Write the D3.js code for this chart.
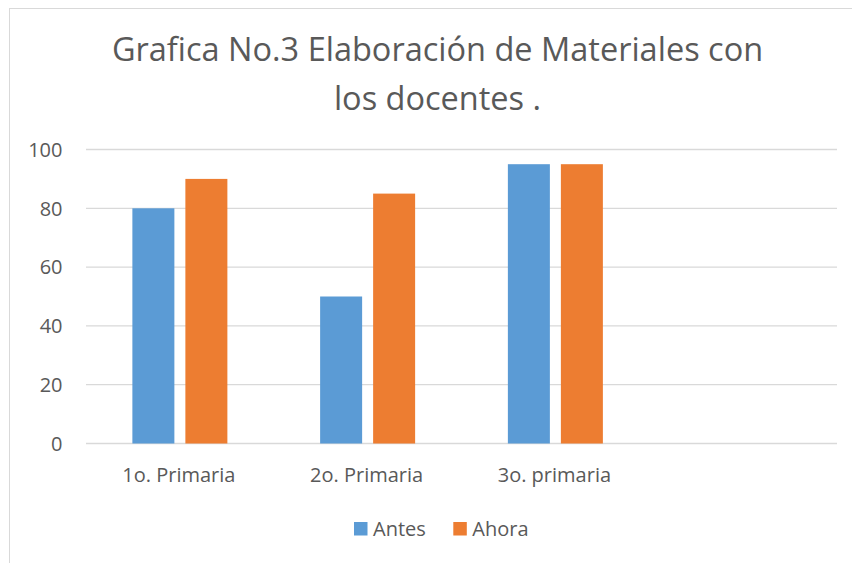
<!DOCTYPE html>
<html>
<head>
<meta charset="utf-8">
<script src="https://cdn.jsdelivr.net/npm/d3@7"></script>
<style>
  body { margin: 0; background: #fff; }
  text { font-family: "Open Sans", "Noto Sans", sans-serif; fill: #595959; }
</style>
</head>
<body>
<div id="chart"></div>
<script>
var categories = ["1o. Primaria", "2o. Primaria", "3o. primaria", ""];
var series = ["Antes", "Ahora"];
var antes = [80, 50, 95, null];
var ahora = [90, 85, 95, null];
var yTicks = [0, 20, 40, 60, 80, 100];
var colors = ["#5B9BD5", "#ED7D31"];
var titleLines = ["Grafica No.3 Elaboración de Materiales con", "los docentes ."];

var width = 852, height = 563;
var margin = {left: 86, right: 15, top: 149.5, bottom: 119.5};

var svg = d3.select("#chart").append("svg")
    .attr("width", width)
    .attr("height", height);

// chart border
svg.append("rect")
    .attr("x", 9.5).attr("y", 8.5)
    .attr("width", width).attr("height", height)
    .attr("fill", "none")
    .attr("stroke", "#d9d9d9");

var x = d3.scaleBand()
    .domain(categories.map(function (d, i) { return i; }))
    .range([margin.left, width - margin.right]);

var y = d3.scaleLinear()
    .domain([0, 100])
    .range([height - margin.bottom, margin.top]);

// gridlines
svg.append("g").selectAll("line")
    .data(yTicks)
    .enter().append("line")
    .attr("x1", margin.left)
    .attr("x2", width - margin.right)
    .attr("y1", function (d) { return y(d); })
    .attr("y2", function (d) { return y(d); })
    .attr("stroke", "#d9d9d9")
    .attr("stroke-width", 1.3);

// y labels
svg.append("g").selectAll("text")
    .data(yTicks)
    .enter().append("text")
    .attr("x", 62.5)
    .attr("y", function (d) { return y(d); })
    .attr("dy", "0.36em")
    .attr("text-anchor", "end")
    .style("font-size", "20px")
    .text(function (d) { return d; });

// bars
var barW = 42, gap = 11;
var data = [antes, ahora];
data.forEach(function (vals, s) {
    svg.append("g").selectAll("rect")
        .data(vals.map(function (v, i) { return {i: i, v: v}; }).filter(function (d) { return d.v != null; }))
        .enter().append("rect")
        .attr("x", function (d) {
            var c = x(d.i) + x.bandwidth() / 2;
            return s === 0 ? c - gap / 2 - barW : c + gap / 2;
        })
        .attr("y", function (d) { return y(d.v); })
        .attr("width", barW)
        .attr("height", function (d) { return y(0) - y(d.v); })
        .attr("fill", colors[s]);
});

// x labels
svg.append("g").selectAll("text")
    .data(categories)
    .enter().append("text")
    .attr("x", function (d, i) { return x(i) + x.bandwidth() / 2 - 1; })
    .attr("y", 482)
    .attr("text-anchor", "middle")
    .style("font-size", "20px")
    .text(function (d) { return d; });

// title
svg.append("g").selectAll("text")
    .data(titleLines)
    .enter().append("text")
    .attr("x", 437.5)
    .attr("y", function (d, i) { return 61 + i * 49; })
    .attr("text-anchor", "middle")
    .style("font-size", "32.5px")
    .text(function (d) { return d; });

// legend
var legend = svg.append("g").selectAll("g")
    .data(series)
    .enter().append("g")
    .attr("transform", function (d, i) { return "translate(" + (354 + i * 99.3) + ",522)"; });
legend.append("rect")
    .attr("width", 13.5).attr("height", 13.5)
    .attr("fill", function (d, i) { return colors[i]; });
legend.append("text")
    .attr("x", 19)
    .attr("y", 13.7)
    .style("font-size", "20px")
    .text(function (d) { return d; });
</script>
</body>
</html>
